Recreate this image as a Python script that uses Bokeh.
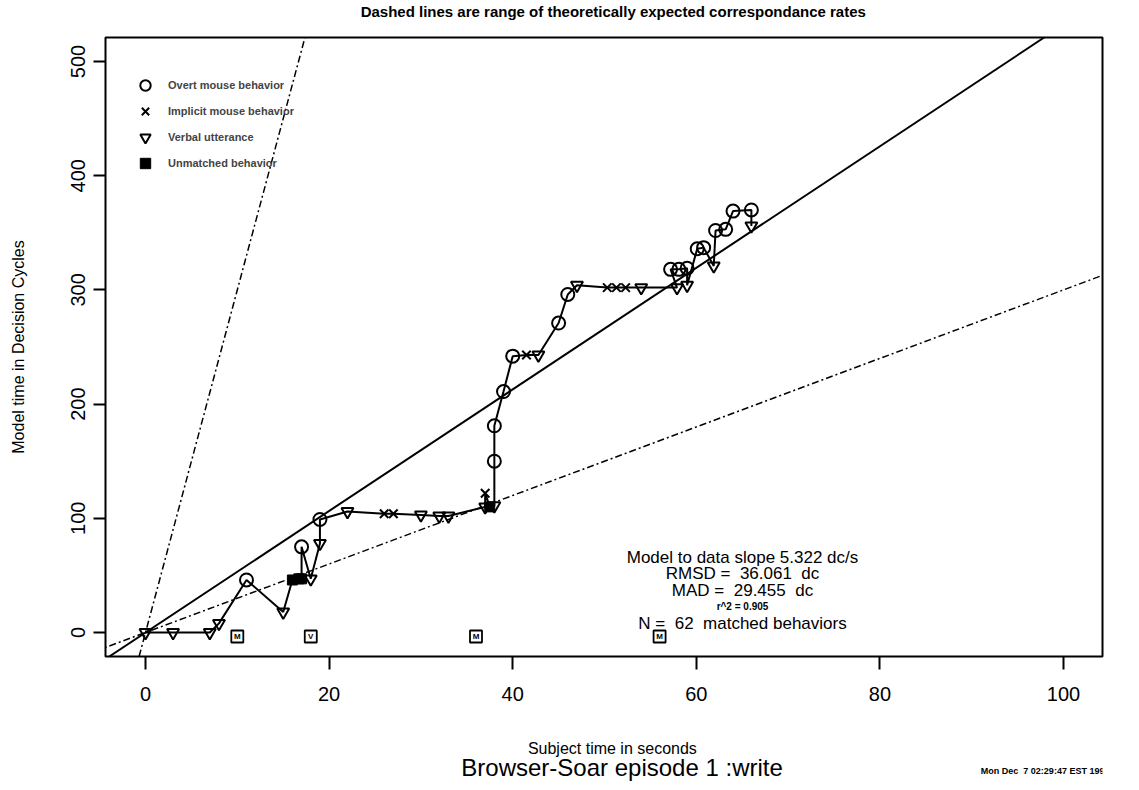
from bokeh.plotting import figure
from bokeh.layouts import column
from bokeh.models import Label, Slope, Legend, LegendItem, ColumnDataSource, Range1d
from bokeh.embed import file_html
from bokeh.resources import INLINE
from bokeh.core.properties import value

# ---------------- data ----------------
subject_time = [0, 3, 7, 8, 11, 15, 16, 16.7, 17, 17, 18, 19, 19, 22, 26, 27, 30, 32, 33,
                37, 37, 37.5, 38, 38, 38, 39, 40, 41.5, 42.8, 45, 46, 47, 50.3, 51.3, 52.3,
                54, 57.9, 57.2, 58.1, 59, 59, 60.1, 60.8, 61.9, 62.1, 63.2, 64, 66, 66]
model_time = [0, 0, 0, 8, 46, 18, 46, 47, 47, 75, 47, 78, 99, 106, 104, 104, 103, 102, 102,
              110, 122, 110, 111, 150, 181, 211, 242, 243, 243, 271, 296, 304, 302, 302, 302,
              302, 302, 318, 318, 319, 304, 336, 337, 321, 352, 353, 369, 370, 356]
behavior = ["V", "V", "V", "V", "O", "V", "U", "U", "U", "O", "V", "V", "O", "V", "X", "X", "V", "V", "V",
            "V", "X", "U", "V", "O", "O", "O", "O", "X", "V", "O", "O", "V", "X", "X", "X",
            "V", "V", "O", "O", "O", "V", "O", "O", "V", "O", "O", "O", "O", "V"]

unmatched_time = [10, 18, 36, 56]
unmatched_model = [-3.5, -3.5, -3.5, -3.5]
unmatched_code = ["M", "V", "M", "M"]

model_slope = 5.322
theory_slopes = [3.0, 30.0]

x_ticks = [0, 20, 40, 60, 80, 100]
y_ticks = [0, 100, 200, 300, 400, 500]

NB = "\u00a0"
stats_lines = ["Model to data slope 5.322 dc/s",
               "RMSD =" + NB + " 36.061 " + NB + "dc",
               "MAD =" + NB + " 29.455 " + NB + "dc",
               "r^2 = 0.905",
               "N =" + NB + " 62 " + NB + "matched behaviors"]
legend_labels = ["Overt mouse behavior", "Implicit mouse behavior", "Verbal utterance",
                 "Unmatched behavior"]

title_text = "Dashed lines are range of theoretically expected correspondance rates"
x_label = "Subject time in seconds"
y_label = "Model time in Decision Cycles"
main_title = "Browser-Soar episode 1 :write"
date_text = "Mon Dec" + NB + " 7 02:29:47 EST 1992"

# ---------------- layout constants ----------------
W = 1131
TOP_H = 30
MAIN_H = 682
BOT_H = 70
X0, X1 = -4.36, 104.25
Y0, Y1 = -21.0, 521.0
FONT = "Liberation Sans"


def text_fig(h):
    f = figure(width=W, height=h, x_range=Range1d(0, W), y_range=Range1d(h, 0),
               output_backend="svg", toolbar_location=None,
               x_axis_type=None, y_axis_type=None, min_border=0)
    f.outline_line_color = None
    f.grid.grid_line_color = None
    f.background_fill_color = "white"
    f.border_fill_color = "white"
    return f


def put(f, text, x, y, size, style="normal", align="center"):
    f.add_layout(Label(x=x, y=y, text=text, text_align=align, text_baseline="middle",
                       text_font=FONT, text_font_size=size, text_font_style=style,
                       text_color="black"))


# top strip
top = text_fig(TOP_H)
put(top, title_text, 576, 11, "15px", "bold")

# ---------------- main figure ----------------
p = figure(width=W, height=MAIN_H, x_range=(X0, X1), y_range=(Y0, Y1),
           output_backend="svg", toolbar_location=None,
           min_border_left=105, min_border_right=29, min_border_top=7, min_border_bottom=56)
p.background_fill_color = "white"
p.border_fill_color = "white"
p.outline_line_color = "black"
p.outline_line_width = 2
p.outline_line_alpha = 1
p.grid.grid_line_color = None

for ax in (p.xaxis[0], p.yaxis[0]):
    ax.axis_line_color = None
    ax.major_tick_in = 0
    ax.minor_tick_line_color = None
    ax.major_tick_line_width = 2
    ax.major_tick_line_color = "black"
    ax.major_label_text_font = FONT
    ax.major_label_text_font_size = "20px"
    ax.major_label_text_color = "black"

p.xaxis.ticker = x_ticks
p.xaxis.major_tick_out = 13
p.xaxis.major_label_standoff = 17
p.yaxis.ticker = y_ticks
p.yaxis.major_tick_out = 12
p.yaxis.major_label_standoff = 8
p.yaxis.major_label_orientation = "vertical"
p.yaxis.axis_label = y_label
p.yaxis.axis_label_text_font = FONT
p.yaxis.axis_label_text_font_size = "16px"
p.yaxis.axis_label_text_font_style = "normal"
p.yaxis.axis_label_text_color = "black"
p.yaxis.axis_label_standoff = 42

# reference lines
p.add_layout(Slope(gradient=model_slope, y_intercept=0, line_color="black", line_width=2))
for s in theory_slopes:
    p.add_layout(Slope(gradient=s, y_intercept=0, line_color="black", line_width=1.5,
                       line_dash="7 3 2 3"))

# trajectory
p.line(subject_time, model_time, line_color="black", line_width=2)


def subset(code):
    xs = [x for x, b in zip(subject_time, behavior) if b == code]
    ys = [y for y, b in zip(model_time, behavior) if b == code]
    return ColumnDataSource(dict(x=xs, y=ys))


r_o = p.scatter("x", "y", source=subset("O"), marker="circle", size=13,
                fill_color=None, line_color="black", line_width=2)
r_x = p.scatter("x", "y", source=subset("X"), marker="x", size=12,
                line_color="black", line_width=2)
r_v = p.scatter("x", "y", source=subset("V"), marker="inverted_triangle", size=12,
                fill_color=None, line_color="black", line_width=2)
r_u = p.scatter("x", "y", source=subset("U"), marker="square", size=10,
                fill_color="black", line_color="black", line_width=1)

# unmatched behaviours on the baseline
p.scatter(unmatched_time, unmatched_model, marker="square", size=12,
          fill_color="white", line_color="black", line_width=1.8)
p.text(unmatched_time, unmatched_model, text=unmatched_code, text_align="center",
       text_baseline="middle", text_font=value(FONT), text_font_size="8px",
       text_font_style="bold", text_color="black")

legend = Legend(items=[LegendItem(label=lab, renderers=[r]) for lab, r in
                       zip(legend_labels, [r_o, r_x, r_v, r_u])],
                location=(25, 480), border_line_color=None, background_fill_alpha=0,
                padding=0, spacing=0, margin=0, glyph_width=30, glyph_height=26,
                label_height=26, label_standoff=8, label_text_font=FONT,
                label_text_font_size="11px", label_text_font_style="bold")
p.add_layout(legend)

# statistics block (inside the frame)
def dx(sx):
    return X0 + (sx - 105) / (1102 - 105) * (X1 - X0)


def dy(sy):
    return Y0 + (656 - sy) / (656 - 37) * (Y1 - Y0)


stat_y = [557, 573, 590, 606, 623]
stat_size = ["17px", "17px", "17px", "10px", "17px"]
stat_style = ["normal", "normal", "normal", "bold", "normal"]
for t, sy, sz, st in zip(stats_lines, stat_y, stat_size, stat_style):
    p.add_layout(Label(x=dx(742), y=dy(sy), text=t, text_align="center",
                       text_baseline="middle", text_font=FONT, text_font_size=sz,
                       text_font_style=st, text_color="black"))

# bottom strip
bot = text_fig(BOT_H)
put(bot, x_label, 575, 36, "16px")
put(bot, main_title, 586, 55, "24px")
put(bot, date_text, 993, 58, "9px", "bold", align="left")

layout = column(top, p, bot, spacing=0)
open("out.html", "w").write(file_html(layout, INLINE))
